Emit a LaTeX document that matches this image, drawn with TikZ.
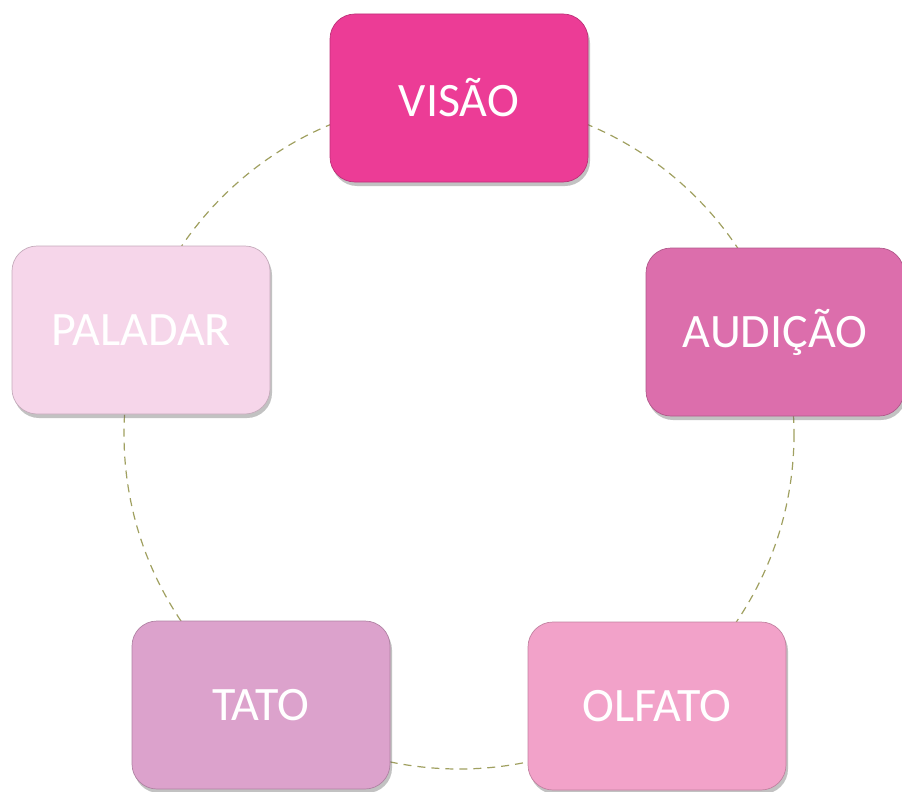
\documentclass[tikz,border=0pt]{standalone}
\usepackage{fontspec}
\setmainfont{Carlito}
\usetikzlibrary{shadows}
\definecolor{cvisao}{HTML}{EC3C96}
\definecolor{caudicao}{HTML}{DC6EAC}
\definecolor{colfato}{HTML}{F2A2C9}
\definecolor{ctato}{HTML}{DCA2CC}
\definecolor{cpaladar}{HTML}{F6D6EA}
\definecolor{ccirc}{HTML}{A0A060}
\tikzset{
  sensebox/.style={rectangle, rounded corners=25pt, minimum width=258pt, minimum height=168pt,
    draw=#1!80!black, line width=0.7pt, fill=#1, text=white,
    font=\fontsize{48}{52}\selectfont,
    drop shadow={shadow xshift=2pt, shadow yshift=-4pt, opacity=0.4, fill=black!60}},
  ring/.style={draw=ccirc, dash pattern=on 8pt off 6pt, line width=1.2pt}
}
\begin{document}
\begin{tikzpicture}[x=1pt,y=-1pt]
\useasboundingbox (0,0) rectangle (902,792);
\coordinate (c) at (459,434);
\draw[ring] (c) circle[radius=335];
\node[sensebox=cvisao] (visao) at (459,98) {VISÃO};
\node[sensebox=caudicao] (audicao) at (775,332) {AUDIÇÃO};
\node[sensebox=colfato] (olfato) at (657,706) {OLFATO};
\node[sensebox=ctato] (tato) at (261,705) {TATO};
\node[sensebox=cpaladar] (paladar) at (141,330) {PALADAR};
\end{tikzpicture}
\end{document}
